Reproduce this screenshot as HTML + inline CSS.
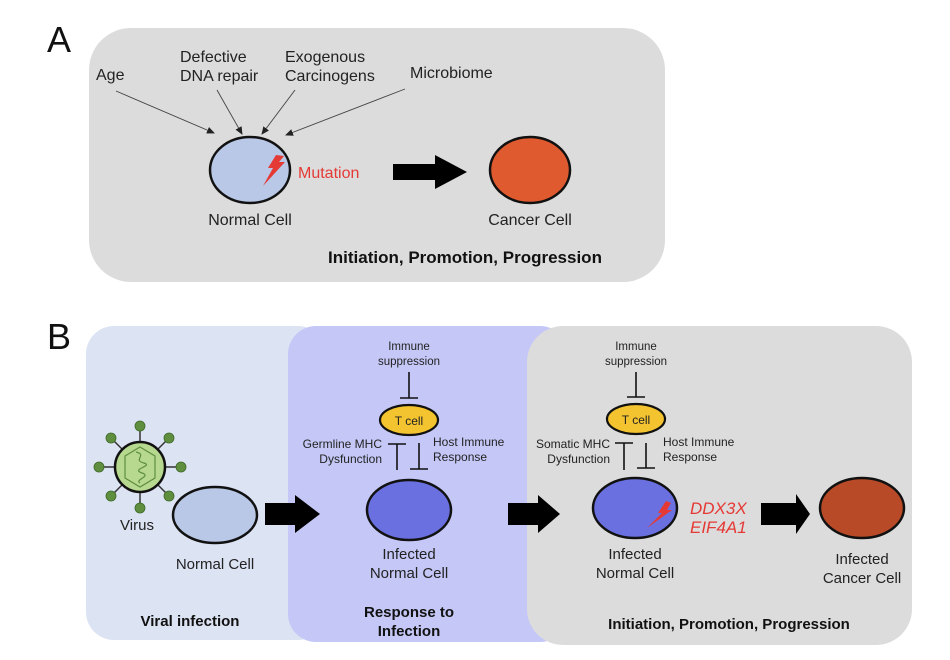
<!DOCTYPE html>
<html><head><meta charset="utf-8"><style>
html,body{margin:0;padding:0;background:#fff;width:950px;height:660px;overflow:hidden}
text{font-family:"Liberation Sans",Arial,sans-serif}
</style></head><body>
<svg width="950" height="660" viewBox="0 0 950 660" xmlns="http://www.w3.org/2000/svg">
<defs>
<marker id="ah" markerWidth="8" markerHeight="8" refX="7" refY="4" orient="auto" markerUnits="userSpaceOnUse">
<path d="M0,0.5 L8,4 L0,7.5 z" fill="#222"/></marker>
</defs>
<text x="47" y="52" font-size="36" fill="#111">A</text>
<text x="47" y="349" font-size="36" fill="#111">B</text>

<!-- Panel A -->
<rect x="89" y="28" width="576" height="254" rx="42" fill="#dcdcdc"/>
<g font-size="16" fill="#222">
<text x="96" y="80">Age</text>
<text x="180" y="62">Defective</text><text x="180" y="81">DNA repair</text>
<text x="285" y="62">Exogenous</text><text x="285" y="81">Carcinogens</text>
<text x="410" y="78">Microbiome</text>
</g>
<g stroke="#444" stroke-width="0.9" marker-end="url(#ah)">
<line x1="116" y1="91" x2="214" y2="133"/>
<line x1="217" y1="90" x2="242" y2="134"/>
<line x1="295" y1="90" x2="262" y2="134"/>
<line x1="405" y1="89" x2="286" y2="135"/>
</g>
<ellipse cx="250" cy="170" rx="40" ry="33" fill="#b8c8e6" stroke="#111" stroke-width="2.5"/>
<path d="M276,155 L268,168 L273,168 L263,186 L285,162 L279,162 L284,156 z" fill="#e53935"/>
<text x="298" y="178" font-size="16" fill="#e53935">Mutation</text>
<path d="M393,164 L435,164 L435,155 L467,172 L435,189 L435,180 L393,180 z" fill="#000"/>
<ellipse cx="530" cy="170" rx="40" ry="33" fill="#e05a30" stroke="#111" stroke-width="2.5"/>
<g font-size="16" fill="#222" text-anchor="middle">
<text x="250" y="225">Normal Cell</text>
<text x="530" y="225">Cancer Cell</text>
</g>
<text x="465" y="263" font-size="17" font-weight="bold" text-anchor="middle" fill="#111">Initiation, Promotion, Progression</text>

<!-- Panel B boxes -->
<rect x="86" y="326" width="240" height="314" rx="28" fill="#dce3f3"/>
<rect x="288" y="326" width="280" height="316" rx="28" fill="#c5c8f7"/>
<rect x="527" y="326" width="385" height="319" rx="36" fill="#dcdcdc"/>

<!-- Virus -->
<g stroke="#333" stroke-width="1.5">
<line x1="140" y1="467" x2="140" y2="427"/><line x1="140" y1="467" x2="140" y2="507"/>
<line x1="140" y1="467" x2="100" y2="467"/><line x1="140" y1="467" x2="180" y2="467"/>
<line x1="140" y1="467" x2="112" y2="439"/><line x1="140" y1="467" x2="168" y2="439"/>
<line x1="140" y1="467" x2="112" y2="495"/><line x1="140" y1="467" x2="168" y2="495"/>
</g>
<g fill="#5f8f3e" stroke="#3c6a28" stroke-width="0.8">
<circle cx="140" cy="426" r="5"/><circle cx="140" cy="508" r="5"/>
<circle cx="99" cy="467" r="5"/><circle cx="181" cy="467" r="5"/>
<circle cx="111" cy="438" r="5"/><circle cx="169" cy="438" r="5"/>
<circle cx="111" cy="496" r="5"/><circle cx="169" cy="496" r="5"/>
</g>
<circle cx="140" cy="467" r="25" fill="#b6d88f" stroke="#111" stroke-width="2.5"/>
<path d="M140,447 L155,456 L155,478 L140,487 L125,478 L125,456 z" fill="none" stroke="#5f8f3e" stroke-width="1.2"/>
<path d="M136,452 C148,455 132,460 144,463 C154,466 130,469 142,473 C152,476 134,480 140,483" fill="none" stroke="#5f8f3e" stroke-width="1.2"/>
<text x="137" y="530" font-size="15" fill="#222" text-anchor="middle">Virus</text>
<ellipse cx="215" cy="515" rx="42" ry="28" fill="#b8c8e6" stroke="#111" stroke-width="2.5"/>
<text x="215" y="569" font-size="15" fill="#222" text-anchor="middle">Normal Cell</text>
<text x="190" y="626" font-size="15" font-weight="bold" fill="#111" text-anchor="middle">Viral infection</text>
<path d="M265,503 L295,503 L295,495 L320,514 L295,533 L295,525 L265,525 z" fill="#000"/>

<!-- Box 2 -->
<g font-size="11.5" fill="#222" text-anchor="middle">
<text x="409" y="350">Immune</text><text x="409" y="365">suppression</text>
</g>
<g stroke="#111" stroke-width="1.6">
<line x1="409" y1="372" x2="409" y2="398"/><line x1="400" y1="398" x2="418" y2="398"/>
<line x1="397" y1="444" x2="397" y2="470"/><line x1="388" y1="444" x2="406" y2="444"/>
<line x1="419" y1="443" x2="419" y2="469"/><line x1="410" y1="469" x2="428" y2="469"/>
</g>
<ellipse cx="409" cy="420" rx="29" ry="15" fill="#f4c430" stroke="#111" stroke-width="2.2"/>
<text x="409" y="425" font-size="12" fill="#222" text-anchor="middle">T cell</text>
<g font-size="12" fill="#222">
<text x="382" y="448" text-anchor="end">Germline MHC</text><text x="382" y="463" text-anchor="end">Dysfunction</text>
<text x="433" y="446">Host Immune</text><text x="433" y="461">Response</text>
</g>
<ellipse cx="409" cy="510" rx="42" ry="30" fill="#6b70e0" stroke="#111" stroke-width="2.5"/>
<g font-size="15" fill="#222" text-anchor="middle">
<text x="409" y="559">Infected</text><text x="409" y="578">Normal Cell</text>
</g>
<g font-size="15" font-weight="bold" fill="#111" text-anchor="middle">
<text x="409" y="617">Response to</text><text x="409" y="636">Infection</text>
</g>
<path d="M508,503 L538,503 L538,495 L560,514 L538,533 L538,525 L508,525 z" fill="#000"/>

<!-- Box 3 -->
<g font-size="11.5" fill="#222" text-anchor="middle">
<text x="636" y="350">Immune</text><text x="636" y="365">suppression</text>
</g>
<g stroke="#111" stroke-width="1.6">
<line x1="636" y1="372" x2="636" y2="397"/><line x1="627" y1="397" x2="645" y2="397"/>
<line x1="624" y1="443" x2="624" y2="470"/><line x1="615" y1="443" x2="633" y2="443"/>
<line x1="646" y1="443" x2="646" y2="468"/><line x1="637" y1="468" x2="655" y2="468"/>
</g>
<ellipse cx="636" cy="419" rx="29" ry="15" fill="#f4c430" stroke="#111" stroke-width="2.2"/>
<text x="636" y="424" font-size="12" fill="#222" text-anchor="middle">T cell</text>
<g font-size="12" fill="#222">
<text x="610" y="448" text-anchor="end">Somatic MHC</text><text x="610" y="463" text-anchor="end">Dysfunction</text>
<text x="663" y="446">Host Immune</text><text x="663" y="461">Response</text>
</g>
<ellipse cx="635" cy="508" rx="42" ry="30" fill="#6b70e0" stroke="#111" stroke-width="2.5"/>
<path d="M666,501 L658,513 L662,513 L647,528 L672,510 L667,510 L671,503 z" fill="#e53935"/>
<g font-size="17" font-style="italic" fill="#e53935">
<text x="690" y="514">DDX3X</text><text x="690" y="533">EIF4A1</text>
</g>
<path d="M761,503 L796,503 L796,494 L810,514 L796,534 L796,525 L761,525 z" fill="#000"/>
<ellipse cx="862" cy="508" rx="42" ry="30" fill="#b84a28" stroke="#111" stroke-width="2.5"/>
<g font-size="15" fill="#222" text-anchor="middle">
<text x="635" y="559">Infected</text><text x="635" y="578">Normal Cell</text>
<text x="862" y="564">Infected</text><text x="862" y="583">Cancer Cell</text>
</g>
<text x="729" y="629" font-size="15" font-weight="bold" fill="#111" text-anchor="middle">Initiation, Promotion, Progression</text>
</svg>
</body></html>
